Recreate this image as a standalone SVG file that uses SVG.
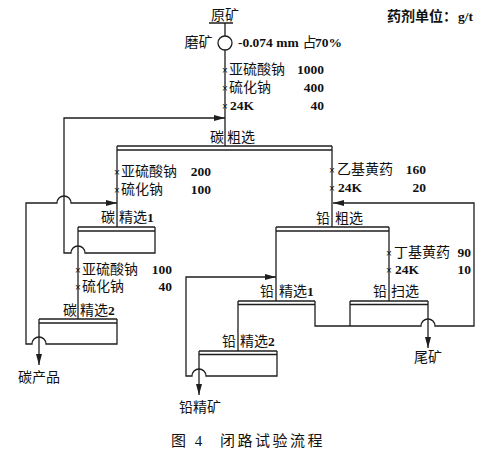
<svg xmlns="http://www.w3.org/2000/svg" width="487" height="457" viewBox="0 0 487 457">
<defs>
<style>
.ln{fill:none;stroke:#1e1e1e;stroke-width:1.3}
.bar{stroke:#1e1e1e;stroke-width:1.3}
.c{font-family:"Liberation Serif","Noto Sans CJK SC",serif;font-size:14px;fill:#111}
.n{font-family:"Liberation Serif","Noto Sans CJK SC",serif;font-weight:bold;font-size:13.5px;fill:#111}
.x{font-family:"Liberation Sans",sans-serif;font-size:10px;fill:#111;text-anchor:middle}
.e{text-anchor:end}
.m{text-anchor:middle}
.cap{font-family:"Liberation Serif","Noto Sans CJK SC",sans-serif;font-size:15px;fill:#111;letter-spacing:2.5px}
</style>
<marker id="ar" markerUnits="userSpaceOnUse" markerWidth="11" markerHeight="6" refX="11" refY="3" orient="auto">
<path d="M0,0 L11,3 L0,6 z" fill="#1e1e1e"/>
</marker>
</defs>
<rect width="487" height="457" fill="#fff"/>

<g id="unit">
<text x="387" y="21" class="c" font-weight="bold">药剂单位：</text>
<text x="458" y="21" class="n">g/t</text>
</g>

<g id="feed">
<text x="211" y="20" class="c">原矿</text>
</g>

<g id="grinding">
<circle cx="225" cy="43" r="7" fill="none" stroke="#1e1e1e" stroke-width="1.3"/>
<text x="212.5" y="47" class="c e">磨矿</text>
<text x="238" y="47" class="n">-0.074 mm</text>
<text x="302.5" y="47" class="c">占</text>
<text x="315" y="47" class="n">70%</text>
</g>

<g id="connectors">
<path class="ln" d="M209,23 H233 M225,23 V36 M225,50 V146"/>
<path class="ln" marker-end="url(#ar)" d="M155,227 V253 H85 A7,7 0 0 0 71,253 H64 V118 H225"/>
<path class="ln" d="M117,146 V227"/>
<path class="ln" marker-end="url(#ar)" d="M117,319 V344 H46 A7,7 0 0 0 32,344 H26 V203 H57 A7,7 0 0 1 71,203 H117"/>
<path class="ln" d="M78,227 V319"/>
<path class="ln" marker-end="url(#ar)" d="M39,319 V365"/>
<path class="ln" d="M332,146 V227"/>
<path class="ln" marker-end="url(#ar)" d="M315,301 V326 H421 A7,7 0 0 1 435,326 H474 V203 H333"/>
<path class="ln" d="M350,301 V326"/>
<path class="ln" d="M276,227 V301 M389,227 V301"/>
<path class="ln" d="M238,301 V351"/>
<path class="ln" marker-end="url(#ar)" d="M277,351 V376 H206 A7,7 0 0 0 192,376 H186 V277 H276"/>
<path class="ln" marker-end="url(#ar)" d="M199,351 V395"/>
<path class="ln" marker-end="url(#ar)" d="M428,301 V348"/>
</g>

<g id="reagents-c-rough">
<text x="225" y="74" class="x">×</text><text x="229" y="74" class="c">亚硫酸钠</text><text x="324" y="74" class="n e">1000</text>
<text x="225" y="92" class="x">×</text><text x="229" y="92" class="c">硫化钠</text><text x="324" y="92" class="n e">400</text>
<text x="225" y="110" class="x">×</text><text x="230" y="110" class="n">24K</text><text x="324" y="110" class="n e">40</text>
</g>

<g id="c-rough">
<line class="bar" x1="117" y1="146" x2="332" y2="146"/>
<line class="bar" x1="117" y1="150" x2="332" y2="150"/>
<text x="224" y="142" class="c e">碳</text>
<text x="227" y="142" class="c">粗选</text>
</g>

<g id="reagents-c-clean1">
<text x="117" y="176" class="x">×</text><text x="121" y="176" class="c">亚硫酸钠</text><text x="211" y="176" class="n e">200</text>
<text x="117" y="194" class="x">×</text><text x="121" y="194" class="c">硫化钠</text><text x="211" y="194" class="n e">100</text>
</g>

<g id="c-clean1">
<line class="bar" x1="78" y1="227" x2="155" y2="227"/>
<line class="bar" x1="78" y1="231" x2="155" y2="231"/>
<text x="115" y="222" class="c e">碳</text>
<text x="119" y="222" class="c">精选<tspan class="n">1</tspan></text>
</g>

<g id="reagents-c-clean2">
<text x="78" y="274" class="x">×</text><text x="82" y="274" class="c">亚硫酸钠</text><text x="172" y="274" class="n e">100</text>
<text x="78" y="291" class="x">×</text><text x="82" y="291" class="c">硫化钠</text><text x="172" y="291" class="n e">40</text>
</g>

<g id="c-clean2">
<line class="bar" x1="39" y1="319" x2="117" y2="319"/>
<line class="bar" x1="39" y1="323" x2="117" y2="323"/>
<text x="77" y="315" class="c e">碳</text>
<text x="80" y="315" class="c">精选<tspan class="n">2</tspan></text>
</g>

<g id="c-product">
<text x="39" y="382" class="c m">碳产品</text>
</g>

<g id="reagents-pb-rough">
<text x="332" y="174" class="x">×</text><text x="337" y="174" class="c">乙基黄药</text><text x="426" y="174" class="n e">160</text>
<text x="332" y="191.5" class="x">×</text><text x="338" y="191.5" class="n">24K</text><text x="426" y="191.5" class="n e">20</text>
</g>

<g id="pb-rough">
<line class="bar" x1="276" y1="227" x2="389" y2="227"/>
<line class="bar" x1="276" y1="231" x2="389" y2="231"/>
<text x="330" y="223" class="c e">铅</text>
<text x="335" y="223" class="c">粗选</text>
</g>

<g id="reagents-pb-scav">
<text x="389" y="257" class="x">×</text><text x="394" y="257" class="c">丁基黄药</text><text x="471" y="257" class="n e">90</text>
<text x="389" y="274" class="x">×</text><text x="395" y="274" class="n">24K</text><text x="471" y="274" class="n e">10</text>
</g>

<g id="pb-clean1">
<line class="bar" x1="238" y1="301" x2="315" y2="301"/>
<line class="bar" x1="238" y1="304.5" x2="315" y2="304.5"/>
<text x="274" y="296" class="c e">铅</text>
<text x="279" y="296" class="c">精选<tspan class="n">1</tspan></text>
</g>

<g id="pb-scav">
<line class="bar" x1="350" y1="301" x2="428" y2="301"/>
<line class="bar" x1="350" y1="304.5" x2="428" y2="304.5"/>
<text x="387" y="296" class="c e">铅</text>
<text x="391" y="296" class="c">扫选</text>
</g>

<g id="pb-clean2">
<line class="bar" x1="199" y1="351" x2="277" y2="351"/>
<line class="bar" x1="199" y1="354.5" x2="277" y2="354.5"/>
<text x="236" y="346" class="c e">铅</text>
<text x="240" y="346" class="c">精选<tspan class="n">2</tspan></text>
</g>

<g id="pb-conc">
<text x="200" y="412" class="c m">铅精矿</text>
</g>

<g id="tailings">
<text x="428" y="362" class="c m">尾矿</text>
</g>

<g id="caption">
<text x="171" y="446" class="cap">图 4</text>
<text x="220" y="446" class="cap">闭路试验流程</text>
</g>
</svg>
